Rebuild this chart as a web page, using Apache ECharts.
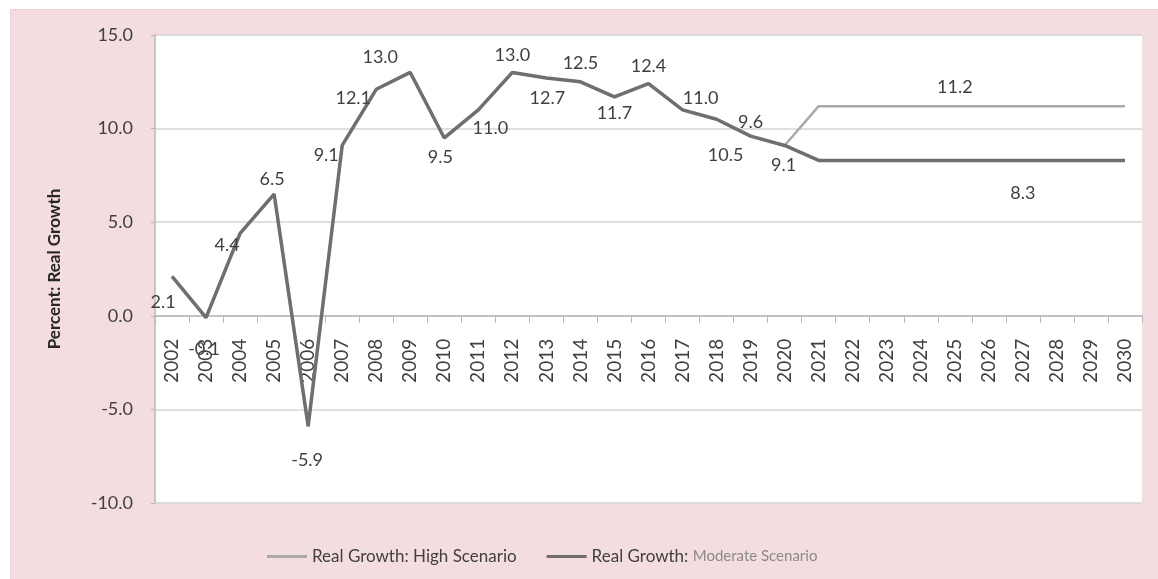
<!DOCTYPE html>
<html>
<head>
<meta charset="utf-8">
<script src="https://cdn.jsdelivr.net/npm/echarts@6/dist/echarts.min.js"></script>
<style>
html,body{margin:0;padding:0;background:#fff;}
#wrap{position:relative;width:1158px;height:579px;background:#fff;overflow:hidden;}
#panel{position:absolute;left:10px;top:9px;width:1148px;height:570px;background:#f4dde0;border-top:1px solid #ecd0d4;border-left:1px solid #ecd0d4;box-sizing:border-box;}
#chart{position:absolute;left:0;top:0;width:1158px;height:579px;}
</style>
</head>
<body>
<div id="wrap"><div id="panel"></div><div id="chart"></div></div>
<script>
// ---- data ----
const years = ['2002','2003','2004','2005','2006','2007','2008','2009','2010','2011','2012','2013','2014','2015','2016','2017','2018','2019','2020','2021','2022','2023','2024','2025','2026','2027','2028','2029','2030'];
const highScenario = [2.1,-0.1,4.4,6.5,-5.9,9.1,12.1,13.0,9.5,11.0,13.0,12.7,12.5,11.7,12.4,11.0,10.5,9.6,9.1,11.2,11.2,11.2,11.2,11.2,11.2,11.2,11.2,11.2,11.2];
const moderateScenario = [2.1,-0.1,4.4,6.5,-5.9,9.1,12.1,13.0,9.5,11.0,13.0,12.7,12.5,11.7,12.4,11.0,10.5,9.6,9.1,8.3,8.3,8.3,8.3,8.3,8.3,8.3,8.3,8.3,8.3];
const yTicks = [-10, -5, 0, 5, 10, 15];
const seriesNames = ['Real Growth: High Scenario', 'Real Growth: Moderate Scenario'];
const seriesColors = ['#a9a9a9', '#6f6f6f'];

// label placement (offsets in px from each point); null = no label
const moderateLabelOffsets = [[-9,26],[-2,32],[-13,12],[-2,-15],[-1,34],[-16,10],[-23,9],[-30,-15],[-4,19],[12,18],[0,-17],[1,20],[0,-19],[0,16],[0,-17],[18,-12],[9,36],[0,-14],[-1,20],null,null,null,null,null,null,[0,33],null,null,null];
const highLabelOffsets = years.map((y,i)=> i===23 ? [0,-19] : null);

const labelStyle = {color:'#404040', fontFamily:'Lato', fontSize:18};

function build(values, offsets){
  return values.map((v,i)=>{
    const o = offsets[i];
    if(!o) return {value:v};
    return {value:v, label:Object.assign({show:true, position:'inside', offset:o, formatter:(p)=>p.value.toFixed(1)}, labelStyle)};
  });
}

const gridTop = 35, gridBottom = 76, chartH = 579;
const plotH = chartH - gridTop - gridBottom;
const yMin = yTicks[0], yMax = yTicks[yTicks.length-1];
// move the category axis up so it sits at value 0
const zeroOffset = -plotH * (0 - yMin) / (yMax - yMin);

const chart = echarts.init(document.getElementById('chart'), null, {renderer:'canvas'});
chart.setOption({
  backgroundColor:'transparent',
  animation:false,
  grid:{left:155, right:16, top:gridTop, bottom:gridBottom, show:true, backgroundColor:'#ffffff', borderWidth:0},
  xAxis:{
    type:'category', data:years, boundaryGap:true, offset:zeroOffset,
    axisLine:{onZero:false, lineStyle:{color:'#b8b8b8', width:1.5}},
    axisTick:{show:true, length:7, lineStyle:{color:'#b8b8b8'}},
    axisLabel:{rotate:90, margin:23, color:'#404040', fontFamily:'Lato', fontSize:19, interval:0},
    splitLine:{show:false}
  },
  yAxis:{
    type:'value', min:yMin, max:yMax, interval:5,
    name:'Percent: Real Growth', nameLocation:'middle', nameGap:92,
    nameTextStyle:{color:'#262626', fontFamily:'Lato', fontWeight:'bold', fontSize:17},
    axisLine:{show:true, lineStyle:{color:'#b8b8b8', width:1.5}},
    axisTick:{show:true, length:4, lineStyle:{color:'#b8b8b8'}},
    axisLabel:{margin:22, color:'#404040', fontFamily:'Lato', fontSize:18, formatter:(v)=>v.toFixed(1)},
    splitLine:{show:true, lineStyle:{color:'#d4d4d4', width:1.5}}
  },
  legend:{
    data:seriesNames.map((n,i)=>({name:n, itemStyle:{color:seriesColors[i]}})),
    left:262, top:543, itemGap:30, itemWidth:40, itemHeight:3, icon:'rect',
    textStyle:{color:'#404040', fontFamily:'Lato', fontSize:17,
      rich:{a:{color:'#404040', fontFamily:'Lato', fontSize:17}, b:{color:'#8a8a8a', fontFamily:'Lato', fontSize:15}}},
    formatter:(name)=> name===seriesNames[1] ? '{a|Real Growth:} {b|Moderate Scenario}' : '{a|'+name+'}'
  },
  series:[
    {name:seriesNames[0], type:'line', data:build(highScenario, highLabelOffsets),
     symbol:'circle', symbolSize:1, showSymbol:true, color:seriesColors[0],
     itemStyle:{color:'rgba(0,0,0,0)'},
     lineStyle:{color:seriesColors[0], width:2.5}, z:2, emphasis:{disabled:true}},
    {name:seriesNames[1], type:'line', data:build(moderateScenario, moderateLabelOffsets),
     symbol:'circle', symbolSize:1, showSymbol:true, color:seriesColors[1],
     itemStyle:{color:'rgba(0,0,0,0)'},
     lineStyle:{color:seriesColors[1], width:3.5}, z:3, emphasis:{disabled:true}}
  ]
});
</script>
</body>
</html>
